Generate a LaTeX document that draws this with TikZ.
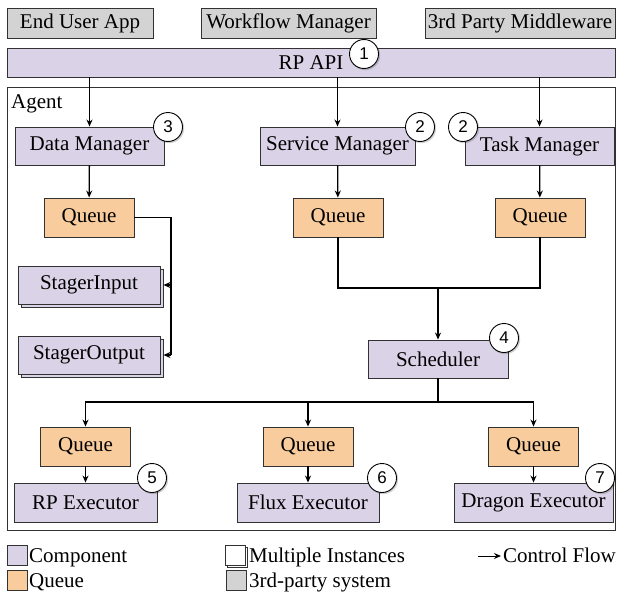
\documentclass[tikz,border=0pt]{standalone}
\usepackage{fontspec}
\setmainfont{Liberation Serif}
\newfontfamily\numfont{Liberation Sans}
\usetikzlibrary{arrows.meta}

\definecolor{compfill}{RGB}{218,211,232}
\definecolor{queuefill}{RGB}{248,204,156}
\definecolor{extfill}{RGB}{211,211,211}
\definecolor{edge}{RGB}{50,50,50}

\begin{document}
\begin{tikzpicture}[x=1pt,y=-1pt,
  every node/.style={font=\fontsize{21}{25}\selectfont},
  boxbase/.style={draw=edge, line width=0.9pt, inner sep=2pt, minimum height=38},
  comp/.style={boxbase, fill=compfill},
  queuebox/.style={boxbase, fill=queuefill, minimum width=90, minimum height=39},
  extsys/.style={boxbase, fill=extfill, minimum height=30},
  numc/.style={circle, draw=black, fill=white, line width=0.9pt, minimum size=29, inner sep=0pt,
    font=\numfont\fontsize{17}{17}\selectfont},
  numshade/.style={circle, fill=black, opacity=0.18, minimum size=30, inner sep=0pt},
  flow/.style={draw=black, line width=1.3pt, -{Stealth[length=7pt,width=6pt]}},
  link/.style={draw=black, line width=1.3pt},
  swatch/.style={draw=edge, line width=0.9pt, minimum size=20, inner sep=0pt},
  legtext/.style={anchor=base west, inner sep=1pt}
]
\useasboundingbox (0,0) rectangle (617,602);

% external systems
\node[extsys, minimum width=146] (eua) at (80,23) {End User App};
\node[extsys, minimum width=175] (wfm) at (288.5,23) {Workflow Manager};
\node[extsys, minimum width=190] (tpm) at (520,23) {3rd Party Middleware};

% API layer
\node[comp, minimum width=608, minimum height=29] (api) at (311,62.5) {RP API};

% agent frame
\node[draw=edge, line width=0.9pt, minimum width=608, minimum height=443, inner sep=0pt] (agent) at (311,308.5) {};
\node[anchor=base west, inner sep=0pt] (agentlbl) at (11,108) {Agent};

% managers
\node[comp, minimum width=149] (dm) at (89.5,146) {Data Manager};
\node[comp, minimum width=155] (sm) at (337.5,146) {Service Manager};
\node[comp, minimum width=149] (tm) at (539.5,146) {Task Manager};

% manager queues
\node[queuebox] (dq) at (89,217.5) {Queue};
\node[queuebox] (sq) at (338,217.5) {Queue};
\node[queuebox] (tq) at (540,217.5) {Queue};

% stagers: a second copy behind each one marks multiple instances
\node[comp, minimum width=142] (sinb) at (92,288) {};
\node[comp, minimum width=142] (sin) at (89,285) {StagerInput};
\node[comp, minimum width=142] (soutb) at (92,358) {};
\node[comp, minimum width=142] (sout) at (89,355) {StagerOutput};

% scheduler
\node[comp, minimum width=140] (sch) at (438,359) {Scheduler};

% executor queues
\node[queuebox] (q1) at (85.5,446.5) {Queue};
\node[queuebox] (q2) at (308,446.5) {Queue};
\node[queuebox] (q3) at (533.5,446.5) {Queue};

% executors
\node[comp, minimum width=143, minimum height=39] (e1) at (85.5,502.5) {RP Executor};
\node[comp, minimum width=142, minimum height=39] (e2) at (308,502.5) {Flux Executor};
\node[comp, minimum width=159, minimum height=39] (e3) at (533.5,502.5) {Dragon Executor};

% control flow
\draw[flow] (api.south -| dm.north) -- (dm.north);
\draw[flow] (api.south -| sm.north) -- (sm.north);
\draw[flow] (api.south -| tm.north) -- (tm.north);
\draw[flow] (dm) -- (dq);
\draw[flow] (sm) -- (sq);
\draw[flow] (tm) -- (tq);

\coordinate (stg) at (171,285);
\coordinate (stgend) at (171,355);
\draw[link] (dq.east) -| (stgend);
\draw[flow] (stg) -- (sin.east -| sinb.east);
\draw[flow] (stgend) -- (sout.east -| soutb.east);

\coordinate (merge) at (438,288);
\draw[link] (sq.south) |- (merge) -| (tq.south);
\draw[flow] (merge) -- (sch.north);

\coordinate (bus) at (438,402);
\draw[link] (sch.south) -- (bus);
\draw[flow] (bus) -| (q1.north);
\draw[flow] (bus) -| (q2.north);
\draw[flow] (bus) -| (q3.north);

\draw[flow] (q1) -- (e1);
\draw[flow] (q2) -- (e2);
\draw[flow] (q3) -- (e3);

% numbered markers, each with a faint shadow
\foreach \nm/\px/\py/\lbl in {n1/364/54/1, n3/168/127/3, n2a/420/127/2, n2b/463/127/2,
                              n4/504/338/4, n5/152/478/5, n6/382/478/6, n7/600/478/7}{
  \node[numshade] (\nm s) at (\px+1.2,\py+1.2) {};
  \node[numc] (\nm) at (\px,\py) {\lbl};
}

% legend
\node[swatch, fill=compfill] (lcomp) at (17,555) {};
\node[legtext] (lcompt) at (28,562) {Component};
\node[swatch, fill=queuefill] (lq) at (17,580) {};
\node[legtext] (lqt) at (28,587) {Queue};
\node[swatch, fill=white] (lmultib) at (237,557) {};
\node[swatch, fill=white] (lmulti) at (235,555) {};
\node[legtext] (lmultit) at (248,562) {Multiple Instances};
\node[swatch, fill=extfill] (lext) at (236,580) {};
\node[legtext] (lextt) at (248,587) {3rd-party system};
\coordinate (cfa) at (478,556);
\coordinate (cfb) at (501,556);
\draw[flow, line width=1pt] (cfa) -- (cfb);
\node[legtext] (lcft) at (502,562) {Control Flow};
\end{tikzpicture}
\end{document}
